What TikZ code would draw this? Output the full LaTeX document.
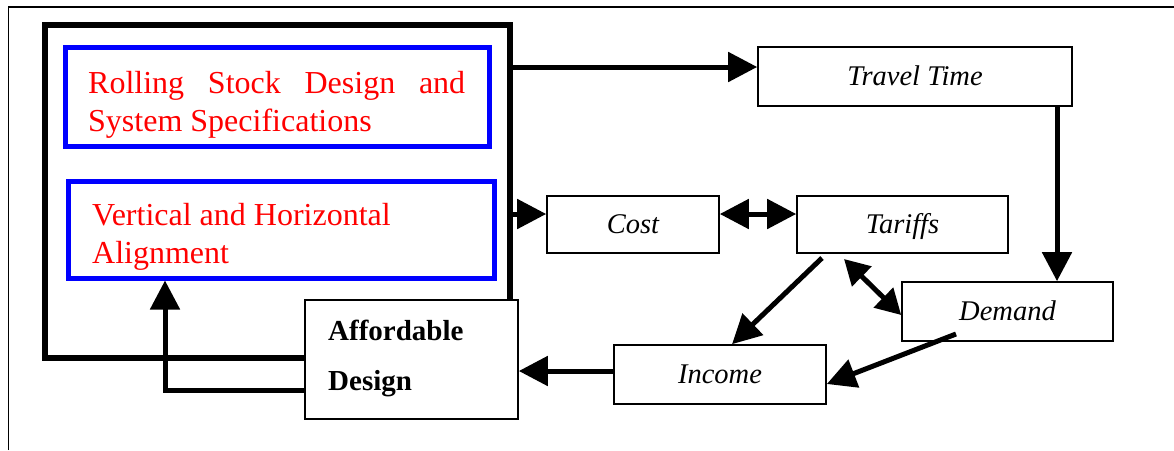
\documentclass[tikz,border=0pt]{standalone}
\usepackage{fontspec}
\setmainfont{Liberation Serif}
\usetikzlibrary{arrows.meta}
\begin{document}
\begin{tikzpicture}[x=1pt,y=-1pt,
  box/.style={draw, line width=1.6pt, inner sep=0pt, fill=white,
    font=\fontsize{28.5}{32}\selectfont\itshape, text height=17pt, text depth=0pt},
  bigbox/.style={draw, line width=5.5pt, inner sep=0pt},
  bluebox/.style={draw=blue, line width=5pt, inner sep=0pt},
  redtxt/.style={text=red, font=\fontsize{32}{38}\selectfont, inner sep=0pt},
  boldtxt/.style={font=\fontsize{29}{34}\selectfont\bfseries, inner sep=0pt},
  arr/.style={line width=5pt, -{Triangle[length=29pt,width=29pt]}},
  darr/.style={line width=5pt, {Triangle[length=29pt,width=29pt]}-{Triangle[length=29pt,width=29pt]}},
  sdarr/.style={line width=5pt, {Triangle[length=25pt,width=27pt]}-{Triangle[length=25pt,width=27pt]}}]

\useasboundingbox (0,0) rectangle (1174,450);

% outer frame (top and left only)
\coordinate (fbl) at (8,450);
\coordinate (ftl) at (8,7);
\coordinate (ftr) at (1174,7);
\draw[line width=1pt] (fbl) -- (ftl);
\draw[line width=2pt] (ftl) -- (ftr);

% big box
\node[bigbox, minimum width=465pt, minimum height=333pt] (big) at (277.5,191.5) {};

% blue boxes
\node[bluebox, minimum width=424pt, minimum height=99pt] (blue1) at (277,96.5) {};
\node[bluebox, minimum width=426pt, minimum height=97pt] (blue2) at (281,229.5) {};

\node[redtxt, anchor=base west] (rs1) at (88,93) {\hbox to 377pt{Rolling\hfill Stock\hfill Design\hfill and}};
\node[redtxt, anchor=base west] (rs2) at (88,131) {System Specifications};
\node[redtxt, anchor=base west] (va1) at (92,225) {Vertical and Horizontal};
\node[redtxt, anchor=base west] (va2) at (92,263) {Alignment};

% right-hand boxes
\node[box, minimum width=314pt, minimum height=59pt] (trav) at (915,76.5) {Travel Time};
\node[box, minimum width=172pt, minimum height=57pt] (cost) at (633,224.5) {Cost};
\node[box, minimum width=211pt, minimum height=57pt] (tar) at (902.5,224.5) {Tariffs};
\node[box, minimum width=211pt, minimum height=59pt] (dem) at (1007.5,311.5) {Demand};
\node[box, minimum width=212pt, minimum height=59pt] (inc) at (720,374.5) {Income};

% affordable design
\node[box, minimum width=213pt, minimum height=119pt] (aff) at (411.5,359.5) {};
\node[boldtxt, anchor=base west] (aff1) at (328,340) {Affordable};
\node[boldtxt, anchor=base west] (aff2) at (328,390) {Design};

% connectors
\draw[arr] (big.east |- 0,67) -- (trav.west |- 0,67);
\draw[arr] (big.east |- 0,214) -- (cost.west |- 0,214);
\draw[darr] (cost.east |- 0,214) -- (tar.west |- 0,214);
\draw[arr] (trav.south -| 1057,0) -- (dem.north -| 1057,0);
\coordinate (t1) at (822,258);
\coordinate (t2) at (844,259);
\coordinate (d1) at (956,334);
\draw[arr] (t1) -- (inc.north -| 732,0);
\draw[sdarr] (t2) -- (dem.west |- 0,315);
\draw[arr] (d1) -- (inc.east |- 0,384);
\draw[arr] (inc.west |- 0,371) -- (aff.east |- 0,371);
\draw[arr, line join=miter] (aff.west |- 0,390) -- (165,390) -- (blue2.south -| 165,0);

\end{tikzpicture}
\end{document}
